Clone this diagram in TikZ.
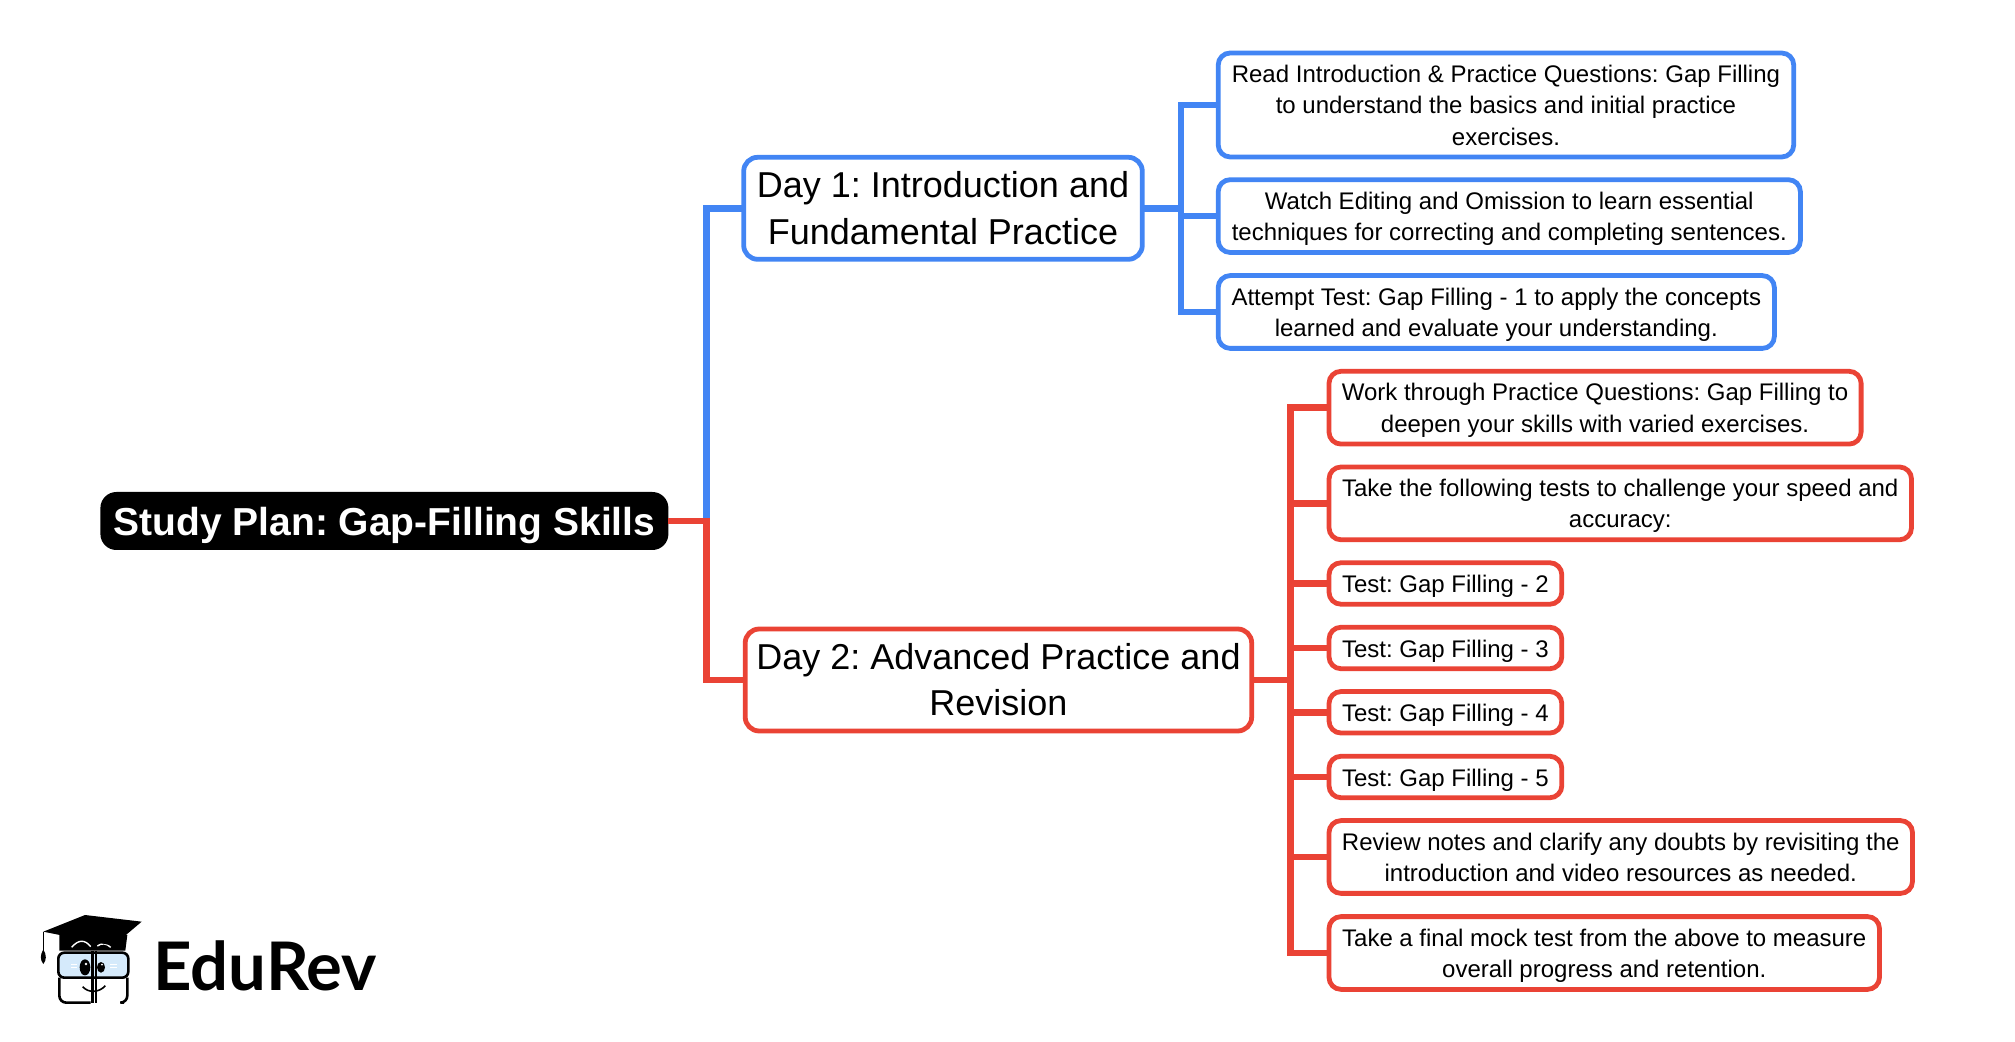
\documentclass[tikz,border=0pt]{standalone}
\usepackage{fontspec}
\setmainfont{Liberation Sans}
\newfontfamily\logofont{Lato}
\frenchspacing
\definecolor{planblue}{HTML}{4285F4}
\definecolor{planred}{HTML}{EA4335}
\definecolor{logoblue}{HTML}{D5EAFB}
\tikzset{
  rootbox/.style={fill=black,text=white,rounded corners=8pt,inner sep=0pt,outer sep=0pt,minimum width=284pt,minimum height=29pt,align=center,font=\fontsize{19.5pt}{24pt}\selectfont\bfseries,execute at begin node=\rule{0pt}{21.8pt},execute at end node=\strut},
  daybox/.style={draw,line width=2.4pt,fill=white,text=black,rounded corners=7pt,inner sep=0pt,outer sep=0pt,anchor=west,align=center,minimum height=51pt,font=\fontsize{18pt}{23.4pt}\selectfont,execute at begin node=\rule{0pt}{42.9pt},execute at end node=\strut},
  basebox/.style={draw,line width=2.4pt,fill=white,text=black,rounded corners=6pt,inner sep=0pt,outer sep=0pt,anchor=west,align=center,minimum height=36.4pt,font=\fontsize{12pt}{15.7pt}\selectfont,execute at end node=\strut},
  leafbox/.style={basebox,execute at begin node=\rule{0pt}{29.2pt}},
  longbox/.style={basebox,minimum height=52pt,execute at begin node=\rule{0pt}{44.9pt}},
  testbox/.style={basebox,minimum width=116.4pt,minimum height=20.75pt,execute at begin node=\rule{0pt}{14pt}},
  bluelink/.style={planblue,line width=3.4pt},
  redlink/.style={planred,line width=3.4pt}
}
\begin{document}
\begin{tikzpicture}[x=0.5pt,y=-0.5pt]
  \useasboundingbox (0,0) rectangle (2015,1042);
  \coordinate (busa) at (706.5,521);
  \coordinate (busb) at (1181,208.3);
  \coordinate (busc) at (1290.7,680);

  \node[rootbox] (root) at (384.4,521) {Study Plan: Gap-Filling Skills}; %root
  \node[daybox,draw=planblue,minimum width=199.3pt] (day1) at (743.7,208.3) {Day 1: Introduction and\\Fundamental Practice};
  \node[daybox,draw=planred,minimum width=253.25pt] (day2) at (745.2,680) {Day 2: Advanced Practice and\\Revision};

  \node[longbox,draw=planblue,minimum width=287.75pt] (read) at (1218.2,105) {Read Introduction \& Practice Questions: Gap Filling\\to understand the basics and initial practice\\exercises.};
  \node[leafbox,draw=planblue,minimum width=291.1pt] (watch) at (1218.2,216.1) {Watch Editing and Omission to learn essential\\techniques for correcting and completing sentences.};
  \node[leafbox,draw=planblue,minimum width=278.1pt] (attempt) at (1218.2,312) {Attempt Test: Gap Filling - 1 to apply the concepts\\learned and evaluate your understanding.};

  \node[leafbox,draw=planred,minimum width=266.05pt] (work) at (1329,407.7) {Work through Practice Questions: Gap Filling to\\deepen your skills with varied exercises.};
  \node[leafbox,draw=planred,minimum width=291.25pt] (take) at (1329,503.4) {Take the following tests to challenge your speed and\\accuracy:};
  \node[testbox,draw=planred] (test2) at (1329,583.5) {Test: Gap Filling - 2};
  \node[testbox,draw=planred] (test3) at (1329,648) {Test: Gap Filling - 3};
  \node[testbox,draw=planred] (test4) at (1329,712.3) {Test: Gap Filling - 4};
  \node[testbox,draw=planred] (test5) at (1329,777) {Test: Gap Filling - 5};
  \node[leafbox,draw=planred,minimum width=291.75pt] (review) at (1329,857) {Review notes and clarify any doubts by revisiting the\\introduction and video resources as needed.};
  \node[leafbox,draw=planred,minimum width=275.25pt] (final) at (1329,953) {Take a final mock test from the above to measure\\overall progress and retention.};

  \draw[bluelink] (busa) |- (day1.west);
  \draw[redlink] (root.east) -- (busa) |- (day2.west);
  \draw[bluelink] (day1.east) -- (busb);
  \draw[bluelink] (busb) |- (read.west);
  \draw[bluelink] (busb) |- (watch.west);
  \draw[bluelink] (busb) |- (attempt.west);
  \draw[redlink] (day2.east) -- (busc);
  \draw[redlink] (busc) |- (work.west);
  \draw[redlink] (busc) |- (take.west);
  \draw[redlink] (busc) |- (test2.west);
  \draw[redlink] (busc) |- (test3.west);
  \draw[redlink] (busc) |- (test4.west);
  \draw[redlink] (busc) |- (test5.west);
  \draw[redlink] (busc) |- (review.west);
  \draw[redlink] (busc) |- (final.west);

  %logo
  \begin{scope}[x=0.16667pt,y=-0.16667pt,yshift=-440pt]
    \fill[black] (178,160) -- (382,165) -- (376,212) -- (178,212) -- cycle;
    \draw[white,line width=0.7pt] (215,202) .. controls (235,178) and (255,178) .. (272,200);
    \draw[white,line width=0.7pt] (292,198) .. controls (305,188) and (320,190) .. (332,202);
    \fill[black] (130,155) -- (255,105) -- (425,125) -- (340,197) -- cycle;
    \draw[black,line width=0.6pt] (130,155) -- (130,215);
    \fill[black] (130,208) .. controls (120,225) and (120,240) .. (130,252) .. controls (140,240) and (140,225) .. (130,208) -- cycle;
    \draw[black,line width=1.3pt,rounded corners=3pt,fill=logoblue] (175,218) rectangle (385,293);
    \draw[black,line width=1.3pt,rounded corners=3.5pt] (272,368) -- (178,368) -- (178,293);
    \draw[black,line width=1.3pt,rounded corners=3.5pt] (382,293) -- (382,368) -- (372,368);
    \draw[black,line width=1.3pt] (278,212) -- (278,370);
    \draw[black,line width=0.7pt] (288,212) -- (288,370);
    \fill[black] (255,262) ellipse [x radius=16,y radius=24];
    \fill[black] (303,262) ellipse [x radius=12,y radius=16];
    \fill[white] (258,252) circle [radius=4];
    \fill[white] (306,254) circle [radius=3];
    \draw[white,line width=0.5pt] (212,253) -- (230,253) (212,262) -- (230,262);
    \draw[white,line width=0.5pt] (330,253) -- (350,253) (330,262) -- (350,262);
    \draw[black,line width=0.8pt] (248,320) .. controls (265,340) and (298,338) .. (316,317);
  \end{scope}
  \node[font=\logofont\bfseries\fontsize{33.5pt}{33.5pt}\selectfont,anchor=base west,inner sep=0pt] (brand) at (153,990) {EduRev};
\end{tikzpicture}
\end{document}
